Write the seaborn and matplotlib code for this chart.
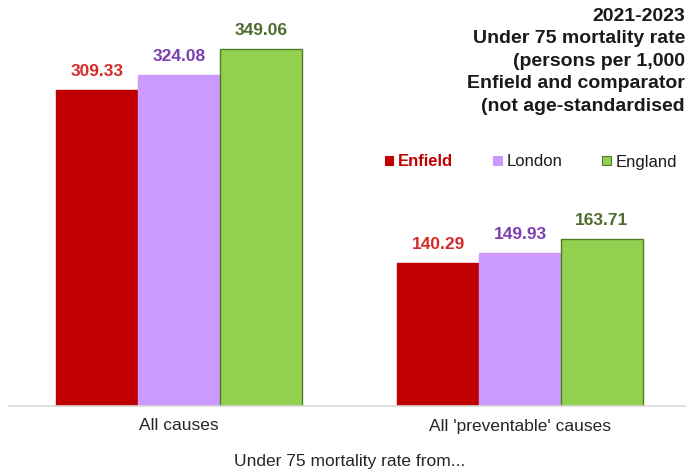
import pandas as pd
import seaborn as sns
import matplotlib.pyplot as plt
from matplotlib.patches import Patch

sns.set_theme(style="white")
plt.rcParams["font.family"] = ["Liberation Sans", "DejaVu Sans"]

causes = ["All causes", "All 'preventable' causes"]
areas = ["Enfield", "London", "England"]
enfield = [309.33, 140.29]
london = [324.08, 149.93]
england = [349.06, 163.71]
# title lines as visible in the source (cut at the right edge there)
title_lines = ["2021-2023", "Under 75 mortality rate", "(persons per 1,000",
               "Enfield and comparator", "(not age-standardised"]

bar_colors = ["#c00000", "#cc99ff", "#92d050"]
edge_colors = ["#c00000", "#cc99ff", "#4f7a28"]
label_colors = ["#d42a2a", "#7b3fb0", "#4f6a2e"]

data = pd.DataFrame({
    "cause": causes * 3,
    "area": [a for a in areas for _ in causes],
    "rate": enfield + london + england,
})

fig = plt.figure(figsize=(6.86, 4.72), dpi=100)
ax = fig.add_axes([8.5 / 686, 66 / 472, 682 / 686, 406 / 472])

sns.barplot(data=data, x="cause", y="rate", hue="area", order=causes, hue_order=areas,
            palette=bar_colors, width=0.72, gap=0, saturation=1, ax=ax, legend=False)

for cont, ec, lc in zip(ax.containers, edge_colors, label_colors):
    for bar in cont:
        bar.set_edgecolor(ec)
        bar.set_linewidth(1.0)
    ax.bar_label(cont, fmt="%.2f", padding=8, color=lc, fontsize=12.5, fontweight="bold")

ax.set_xlim(-0.5, 1.5)
ax.set_ylim(0, 397.4)
ax.set_yticks([])
ax.set_ylabel("")
ax.set_xlabel("Under 75 mortality rate from...", fontsize=12.5, color="#262626", labelpad=15)
ax.tick_params(axis="x", length=0, labelsize=12.5, colors="#262626", pad=9)
for side in ["top", "right", "left"]:
    ax.spines[side].set_visible(False)
ax.spines["bottom"].set_color("#d9d9d9")
ax.spines["bottom"].set_linewidth(1.2)

fig.text(685 / 686, 1 - 8 / 472, "\n".join(title_lines),
         ha="right", va="top", fontsize=14, fontweight="bold", color="#1a1a1a",
         linespacing=1.42, multialignment="right")

handles = [Patch(facecolor=c, edgecolor=e, linewidth=0.8) for c, e in zip(bar_colors, edge_colors)]
leg = fig.legend(handles, areas, loc="center", bbox_to_anchor=(531 / 686, 1 - 162 / 472),
                 ncol=3, frameon=False, fontsize=12, handlelength=0.5, handleheight=0.5,
                 handletextpad=0.3, columnspacing=2.4)
for txt, col in zip(leg.get_texts(), ["#c00000", "#1a1a1a", "#1a1a1a"]):
    txt.set_color(col)
leg.get_texts()[0].set_fontweight("bold")

fig.savefig("out.png", dpi=100)
